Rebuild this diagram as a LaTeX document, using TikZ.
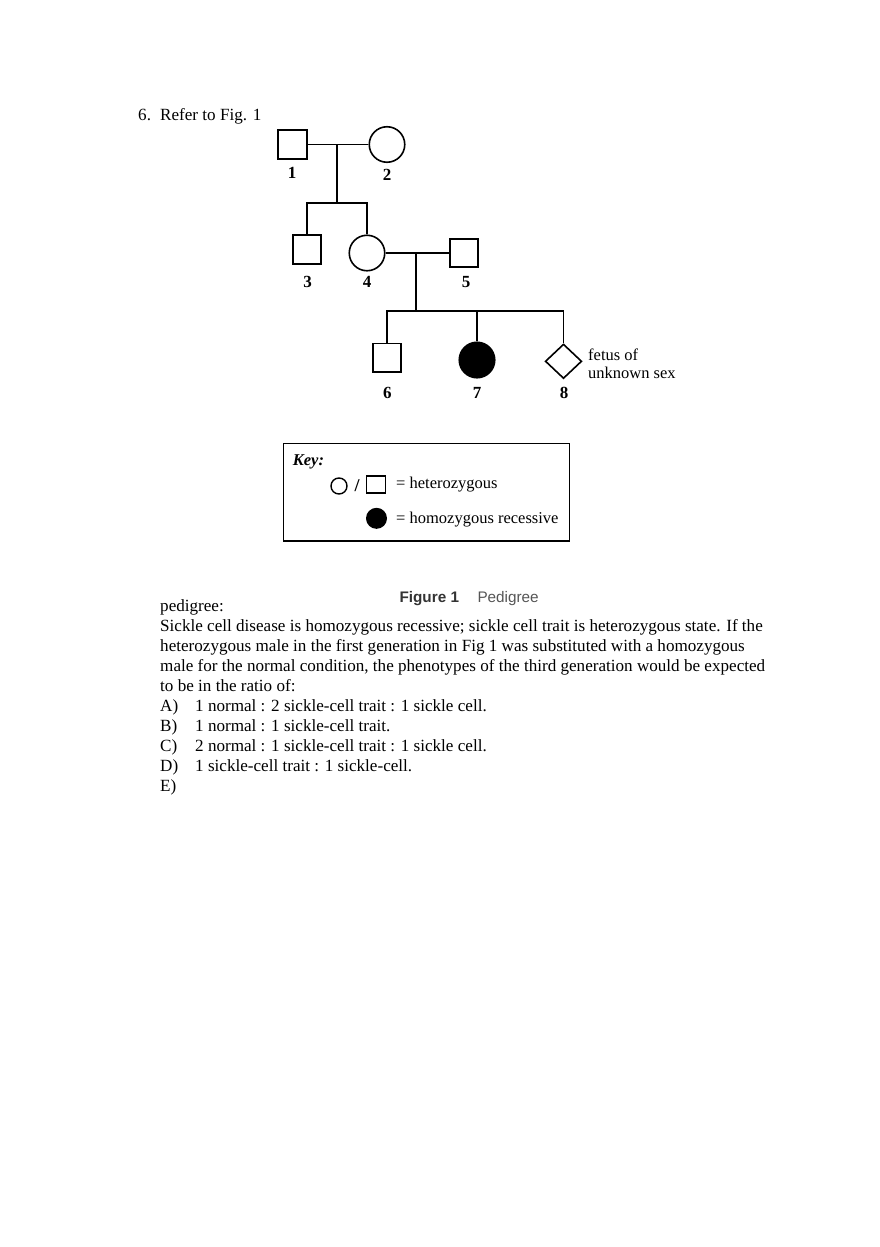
\documentclass[tikz,border=0pt]{standalone}
\usepackage{fontspec}
\setmainfont{Liberation Serif}
\setsansfont{Liberation Sans}
\usepackage{tikz}
\usetikzlibrary{shapes.geometric}
\definecolor{figgrey}{HTML}{333333}
\definecolor{capgrey}{HTML}{555555}
\tikzset{
  male/.style    ={rectangle,draw,line width=1.6pt,minimum size=28.5pt,inner sep=0pt},
  female/.style  ={circle,draw,line width=1.6pt,minimum size=35.5pt,inner sep=0pt},
  fetus/.style   ={diamond,draw,line width=1.6pt,minimum width=36.5pt,minimum height=34.5pt,inner sep=0pt},
  affected/.style={fill=black},
  kinline/.style ={line width=1.7pt},
  num/.style     ={font=\fontsize{17}{19}\selectfont\bfseries,inner sep=0pt},
  keytxt/.style  ={font=\fontsize{16.5}{18.4}\selectfont,anchor=west,inner sep=0pt},
  body/.style    ={font=\fontsize{17.1}{20}\selectfont,anchor=base west,inner sep=0pt},
  caption/.style ={font=\sffamily\fontsize{15.3}{18}\selectfont,anchor=west,inner sep=0pt},
}

\begin{document}
\begin{tikzpicture}[x=1pt,y=-1pt]
  \useasboundingbox (0,0) rectangle (880,1247);
  \node[body](qno) at (138,120){6.};  \node[body](qref) at (160,120){Refer to Fig. 1};
  % pedigree
  \node[male](p1) at (292.5,144.5){};   \node[female](p2) at (387,144.5){};
  \node[male](p3) at (307,249.5){};     \node[female](p4) at (367,253){};  \node[male](p5) at (464,253){};
  \node[male](p6) at (387,357.7){};     \node[female,affected](p7) at (477,360){};  \node[fetus](p8) at (563.5,361.3){};
  \coordinate (m1) at (337.3,144.5);  \coordinate (s1) at (337.3,202.7);
  \coordinate (m2) at (416,253);      \coordinate (s2) at (416,310.7);
  \draw[kinline](p1)--(p2);  \draw[kinline](m1)--(s1);  \draw[kinline](p3)|-(s1)-|(p4);
  \draw[kinline](p4)--(p5);  \draw[kinline](m2)--(s2);  \draw[kinline](p6)|-(s2)-|(p8);
  \draw[kinline](p7)--(p7|-s2);
  \foreach \n/\x/\y in {1/292/172.7,2/387/175,3/307.7/282.3,4/367/282,5/466/281.7,6/387.3/392.7,7/477/392.7,8/564/392.7}{\node[num](l\n) at (\x,\y){\n};}
  \node[keytxt,align=left](fet) at (588,363.5){fetus of\\unknown sex};
  % key
  \node[draw,line width=1.6pt,minimum width=286pt,minimum height=97.7pt,inner sep=0pt](keybox) at (426.3,492.2){};
  \node[keytxt,font=\fontsize{16.5}{18.4}\selectfont\bfseries\itshape](keyhd) at (292.7,461.7){Key:};
  \node[circle,draw,line width=1.4pt,minimum size=16pt,inner sep=0pt](k1) at (339,486){};
  \node[keytxt,anchor=center,font=\fontsize{18}{20}\selectfont\bfseries](kslash) at (357,486){/};
  \node[rectangle,draw,line width=1.4pt,minimum width=19pt,minimum height=17pt,inner sep=0pt](k2) at (376,484.5){};
  \node[keytxt](khet) at (396,485){= heterozygous};
  \node[circle,fill=black,minimum size=21pt,inner sep=0pt](k3) at (376.5,518.3){};
  \node[keytxt](khom) at (396,519.3){= homozygous recessive};
  \node[caption,font=\sffamily\fontsize{15.3}{18}\selectfont\bfseries,text=figgrey](figno) at (399.3,598.3){Figure 1};
  \node[caption,text=capgrey](figcap) at (477.3,598.3){Pedigree};
  % question text
  \foreach \t [count=\i from 0] in {{pedigree:},{Sickle cell disease is homozygous recessive; sickle cell trait is heterozygous state. If the},{heterozygous male in the first generation in Fig 1 was substituted with a homozygous},{male for the normal condition, the phenotypes of the third generation would be expected},{to be in the ratio of:}}
    {\node[body](t\i) at (160,611+20*\i){\t};}
  \foreach \o/\t [count=\i from 0] in {A/{1 normal : 2 sickle-cell trait : 1 sickle cell.},B/{1 normal : 1 sickle-cell trait.},C/{2 normal : 1 sickle-cell trait : 1 sickle cell.},D/{1 sickle-cell trait : 1 sickle-cell.}}
    {\node[body](o\o) at (160,711+20*\i){\o)};  \node[body](a\o) at (195,711+20*\i){\t};}
  \node[body](oE) at (160,791){E)};
\end{tikzpicture}
\end{document}
